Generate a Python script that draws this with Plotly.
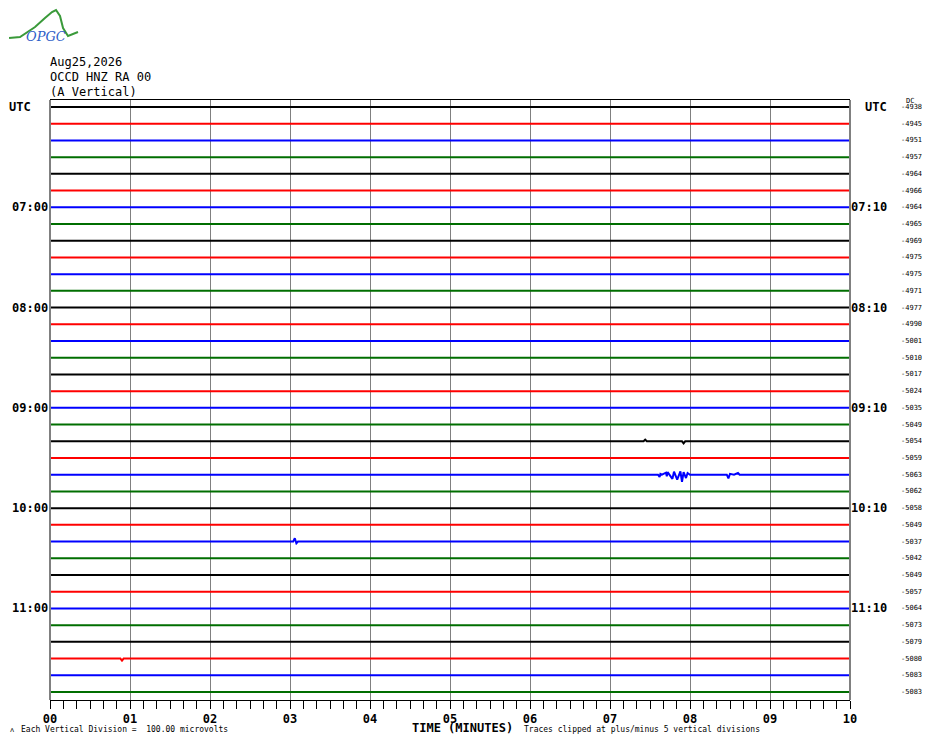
import plotly.graph_objects as go

# helicorder rows: 36 lines of 10 minutes, 06:00 -> 12:00 UTC
left_labels = ["UTC", "07:00", "08:00", "09:00", "10:00", "11:00"]
right_labels = ["UTC", "07:10", "08:10", "09:10", "10:10", "11:10"]
label_rows = [0, 6, 12, 18, 24, 30]

dc_offsets = [-49380, -49453, -49512, -49576, -49643, -49669,
              -49641, -49656, -49695, -49756, -49755, -49714,
              -49776, -49900, -50012, -50104, -50173, -50242,
              -50354, -50492, -50548, -50595, -50636, -50626,
              -50583, -50491, -50370, -50423, -50493, -50578,
              -50644, -50737, -50792, -50807, -50833, -50834]

trace_colors = ["#000000", "#ff0000", "#0000ff", "#006e00"]

minute_ticks = [0, 1, 2, 3, 4, 5, 6, 7, 8, 9, 10]
minute_text = ["00", "01", "02", "03", "04", "05", "06", "07", "08", "09", "10"]

# readable wiggles (minutes, offset in trace spacings); rest of traces are quiet
event_22_t = [0, 7.60, 7.62, 7.63, 7.65, 7.70, 7.71, 7.72, 7.78, 7.80, 7.84, 7.88,
              7.90, 7.92, 7.95, 7.97, 8.00, 8.05, 8.46, 8.48, 8.50, 8.55, 8.60, 8.62, 10]
event_22_v = [0, 0, -0.14, 0.05, 0, 0.12, -0.1, 0.15, -0.25, 0.18, -0.3, 0.2,
              -0.42, 0.15, -0.2, 0.1, 0, 0, 0, -0.22, 0.05, 0, 0.1, 0, 0]
event_26_t = [0, 3.04, 3.06, 3.08, 3.10, 10]
event_26_v = [0, 0, 0.2, -0.1, 0, 0]
event_20_t = [0, 7.42, 7.44, 7.46, 7.9, 7.92, 7.94, 10]
event_20_v = [0, 0, 0.1, 0, 0, -0.12, 0, 0]
event_33_t = [0, 0.88, 0.90, 0.92, 10]
event_33_v = [0, 0, -0.12, 0, 0]
events = {22: (event_22_t, event_22_v), 26: (event_26_t, event_26_v),
          20: (event_20_t, event_20_v), 33: (event_33_t, event_33_v)}

MONO = "DejaVu Sans Mono"

fig = go.Figure()

for i in range(len(dc_offsets)):
    t, v = events.get(i, ([0, 10], [0, 0]))
    fig.add_trace(go.Scatter(
        x=t, y=[-i + val for val in v], mode="lines",
        line=dict(color=trace_colors[i % 4], width=2),
        showlegend=False, hoverinfo="skip",
    ))

annotations = []
for row, lab in zip(label_rows, left_labels):
    if lab == "UTC":
        annotations.append(dict(x=0, xref="paper", xshift=-43, y=-row, text=f"<b>{lab}</b>",
                                xanchor="left", showarrow=False, font=dict(family=MONO, size=12)))
    else:
        annotations.append(dict(x=0, xref="paper", xshift=0, y=-row, text=f"<b>{lab}</b>",
                                xanchor="right", showarrow=False, font=dict(family=MONO, size=12)))
for row, lab in zip(label_rows, right_labels):
    shift = 13 if lab == "UTC" else -1
    annotations.append(dict(x=1, xref="paper", xshift=shift, y=-row, text=f"<b>{lab}</b>",
                            xanchor="left", showarrow=False, font=dict(family=MONO, size=12)))
for i, dc in enumerate(dc_offsets):
    annotations.append(dict(x=1, xref="paper", xshift=49, y=-i, text=str(dc),
                            xanchor="left", showarrow=False, font=dict(family=MONO, size=7)))
annotations.append(dict(x=1, xref="paper", xshift=54, y=0, yshift=6, text="DC",
                        xanchor="left", showarrow=False, font=dict(family=MONO, size=7)))

# header block
for k, line in enumerate(["Aug25,2026", "OCCD HNZ RA 00", "(A Vertical)"]):
    annotations.append(dict(x=0, xref="paper", xshift=-2, y=1, yref="paper", yshift=38 - 15 * k,
                            text=line, xanchor="left", yanchor="middle", showarrow=False,
                            font=dict(family=MONO, size=12)))

# footer
annotations += [
    dict(x=0.515, xref="paper", y=0, yref="paper", yshift=-28, text="<b>TIME (MINUTES)</b>",
         xanchor="center", yanchor="middle", showarrow=False, font=dict(family=MONO, size=12)),
    dict(x=0.59, xref="paper", y=0, yref="paper", yshift=-29,
         text="Traces clipped at plus/minus 5 vertical divisions",
         xanchor="left", yanchor="middle", showarrow=False, font=dict(family=MONO, size=8)),
    dict(x=0, xref="paper", xshift=-31, y=0, yref="paper", yshift=-29,
         text="Each Vertical Division =  100.00 microvolts",
         xanchor="left", yanchor="middle", showarrow=False, font=dict(family=MONO, size=8)),
    dict(x=0, xref="paper", xshift=-42, y=0, yref="paper", yshift=-30, text="\u028c",
         xanchor="left", yanchor="middle", showarrow=False, font=dict(family=MONO, size=7)),
    dict(x=0, xref="paper", xshift=-4, y=1, yref="paper", yshift=64, text="<i>OPGC</i>",
         xanchor="center", yanchor="middle", showarrow=False,
         font=dict(family="DejaVu Serif", size=13, color="#3060c8")),
]

# logo curve, in screen pixels mapped to paper coords of the plot area
def px(x, y):
    return (x - 50) / 800, (700 - y) / 600

pts = [(9, 38), (20, 37), (35, 27), (45, 18), (52, 12), (56, 10), (60, 16), (63, 28), (68, 36), (78, 32)]
path = "M " + " L ".join(f"{px(a, b)[0]:.4f},{px(a, b)[1]:.4f}" for a, b in pts)
shapes = [dict(type="path", path=path, xref="paper", yref="paper",
               line=dict(color="#3a9a3a", width=2))]

# page body has an 8px margin: plot area lands at x 50-850, y 100-700 on screen
fig.update_layout(
    width=930, height=744,
    margin=dict(l=42, r=88, t=92, b=52, autoexpand=False),
    paper_bgcolor="white", plot_bgcolor="white",
    font=dict(family=MONO, color="black"),
    annotations=annotations, shapes=shapes,
    xaxis=dict(
        range=[0, 10], tickmode="array", tickvals=minute_ticks,
        ticktext=[f"<b>{s}</b>" for s in minute_text],
        showgrid=True, gridcolor="#808080", gridwidth=1, zeroline=False,
        showline=True, linecolor="black", linewidth=1, mirror=True,
        ticks="outside", ticklen=8, tickcolor="black", automargin=False,
        minor=dict(ticks="outside", ticklen=8, tickcolor="black", tick0=0, dtick=1 / 6, showgrid=False),
        tickfont=dict(family=MONO, size=12, color="black"),
    ),
    yaxis=dict(
        range=[-35.48, 0.42], showticklabels=False, showgrid=False, zeroline=False,
        showline=False, automargin=False,
    ),
)
# gray side borders
fig.add_shape(type="line", xref="paper", yref="paper", x0=0, x1=0, y0=0, y1=1,
              line=dict(color="#808080", width=2))
fig.add_shape(type="line", xref="paper", yref="paper", x0=1, x1=1, y0=0, y1=1,
              line=dict(color="#808080", width=2))

fig.write_html("out.html")
